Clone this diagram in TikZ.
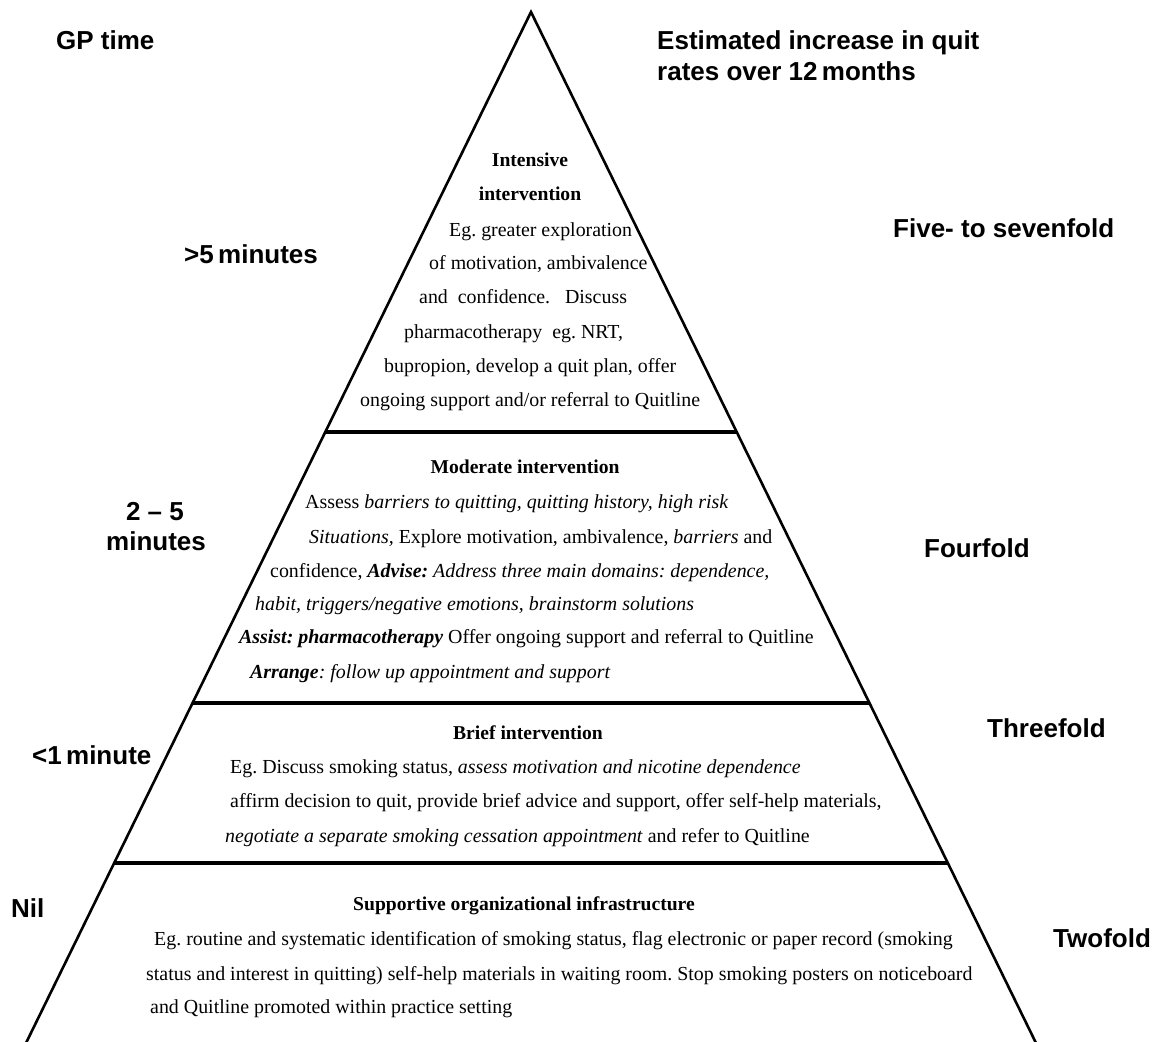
\documentclass[tikz,border=0pt]{standalone}
\usepackage{fontspec}
\setmainfont{Liberation Serif}
\newfontfamily\lsans{Liberation Sans}
\usetikzlibrary{calc}
\frenchspacing
\tikzset{
  body/.style={inner sep=0pt, font=\fontsize{19.9}{23}\selectfont},
  bodyw/.style={body, anchor=base west},
  head/.style={body, anchor=base, font=\fontsize{19.6}{23}\selectfont\bfseries},
  lab/.style={inner sep=0pt, anchor=base west, font=\lsans\bfseries\fontsize{26}{31}\selectfont},
  sideline/.style={line width=2.6pt, line join=miter, miter limit=20},
  tierline/.style={line width=3.4pt},
}
\begin{document}
\begin{tikzpicture}[x=1pt,y=-1pt]
\useasboundingbox (0,0) rectangle (1158,1041);
% pyramid
\coordinate (apex) at (531,12);
\coordinate (bl) at (27,1041);
\coordinate (br) at (1035,1041);
\coordinate (l1) at ($(apex)!0.4082!(bl)$);
\coordinate (r1) at ($(apex)!0.4082!(br)$);
\coordinate (l2) at ($(apex)!0.6715!(bl)$);
\coordinate (r2) at ($(apex)!0.6715!(br)$);
\coordinate (l3) at ($(apex)!0.8270!(bl)$);
\coordinate (r3) at ($(apex)!0.8270!(br)$);
\draw[sideline] ($(apex)!1.02!(bl)$) -- (apex) -- ($(apex)!1.02!(br)$);
\draw[tierline] (l1) -- (r1);
\draw[tierline] (l2) -- (r2);
\draw[tierline] (l3) -- (r3);

% side labels
\node[lab] (gp) at (56,49) {GP time};
\node[lab] (est1) at (657,49) {Estimated increase in quit};
\node[lab] (est2) at (657,80) {rates over 12\,months};
\node[lab] (t1) at (184,263) {>5\,minutes};
\node[lab] (q1) at (893,237) {Five- to sevenfold};
\node[lab, anchor=base] (t2a) at (155,520) {2 – 5};
\node[lab, anchor=base] (t2b) at (156,550) {minutes};
\node[lab] (q2) at (924,557) {Fourfold};
\node[lab] (t3) at (32,764) {<1\,minute};
\node[lab] (q3) at (987,737) {Threefold};
\node[lab] (t4) at (11,917) {Nil};
\node[lab] (q4) at (1053,947) {Twofold};

% intensive
\node[head] (ih1) at (530,166) {Intensive};
\node[head] (ih2) at (530,200) {intervention};
\node[bodyw] (i1) at (449,236) {Eg. greater exploration};
\node[bodyw] (i2) at (429,269) {of motivation, ambivalence};
\node[bodyw] (i3) at (419,303) {and\ \ confidence.\ \ \ Discuss};
\node[bodyw] (i4) at (404,338) {pharmacotherapy\ \ eg. NRT,};
\node[bodyw] (i5) at (384,372) {bupropion, develop a quit plan, offer};
\node[bodyw] (i6) at (360,406) {ongoing support and/or referral to Quitline};

% moderate
\node[head] (mh) at (525,473) {Moderate intervention};
\node[bodyw] (m1) at (305,508) {Assess \textit{barriers to quitting, quitting history, high risk}};
\node[bodyw] (m2) at (309,543) {\textit{Situations,} Explore motivation, ambivalence, \textit{barriers} and};
\node[bodyw] (m3) at (270,577) {confidence, \textbf{\textit{Advise:}} \textit{Address three main domains: dependence,}};
\node[bodyw] (m4) at (255,610) {\textit{habit, triggers/negative emotions, brainstorm solutions}};
\node[bodyw] (m5) at (239,643) {\textbf{\textit{Assist: pharmacotherapy}} Offer ongoing support and referral to Quitline};
\node[bodyw] (m6) at (250,678) {\textbf{\textit{Arrange}}\textit{: follow up appointment and support}};

% brief
\node[head] (bh) at (528,739) {Brief intervention};
\node[bodyw] (b1) at (230,773) {Eg. Discuss smoking status, \textit{assess motivation and nicotine dependence}};
\node[bodyw] (b2) at (230,807) {affirm decision to quit, provide brief advice and support, offer self-help materials,};
\node[bodyw] (b3) at (225,842) {\textit{negotiate a separate smoking cessation appointment} and refer to Quitline};

% supportive
\node[head] (sh) at (524,910) {Supportive organizational infrastructure};
\node[bodyw] (s1) at (154,945) {Eg. routine and systematic identification of smoking status, flag electronic or paper record (smoking};
\node[bodyw] (s2) at (146,980) {status and interest in quitting) self-help materials in waiting room. Stop smoking posters on noticeboard};
\node[bodyw] (s3) at (150,1013) {and Quitline promoted within practice setting};
\end{tikzpicture}
\end{document}
